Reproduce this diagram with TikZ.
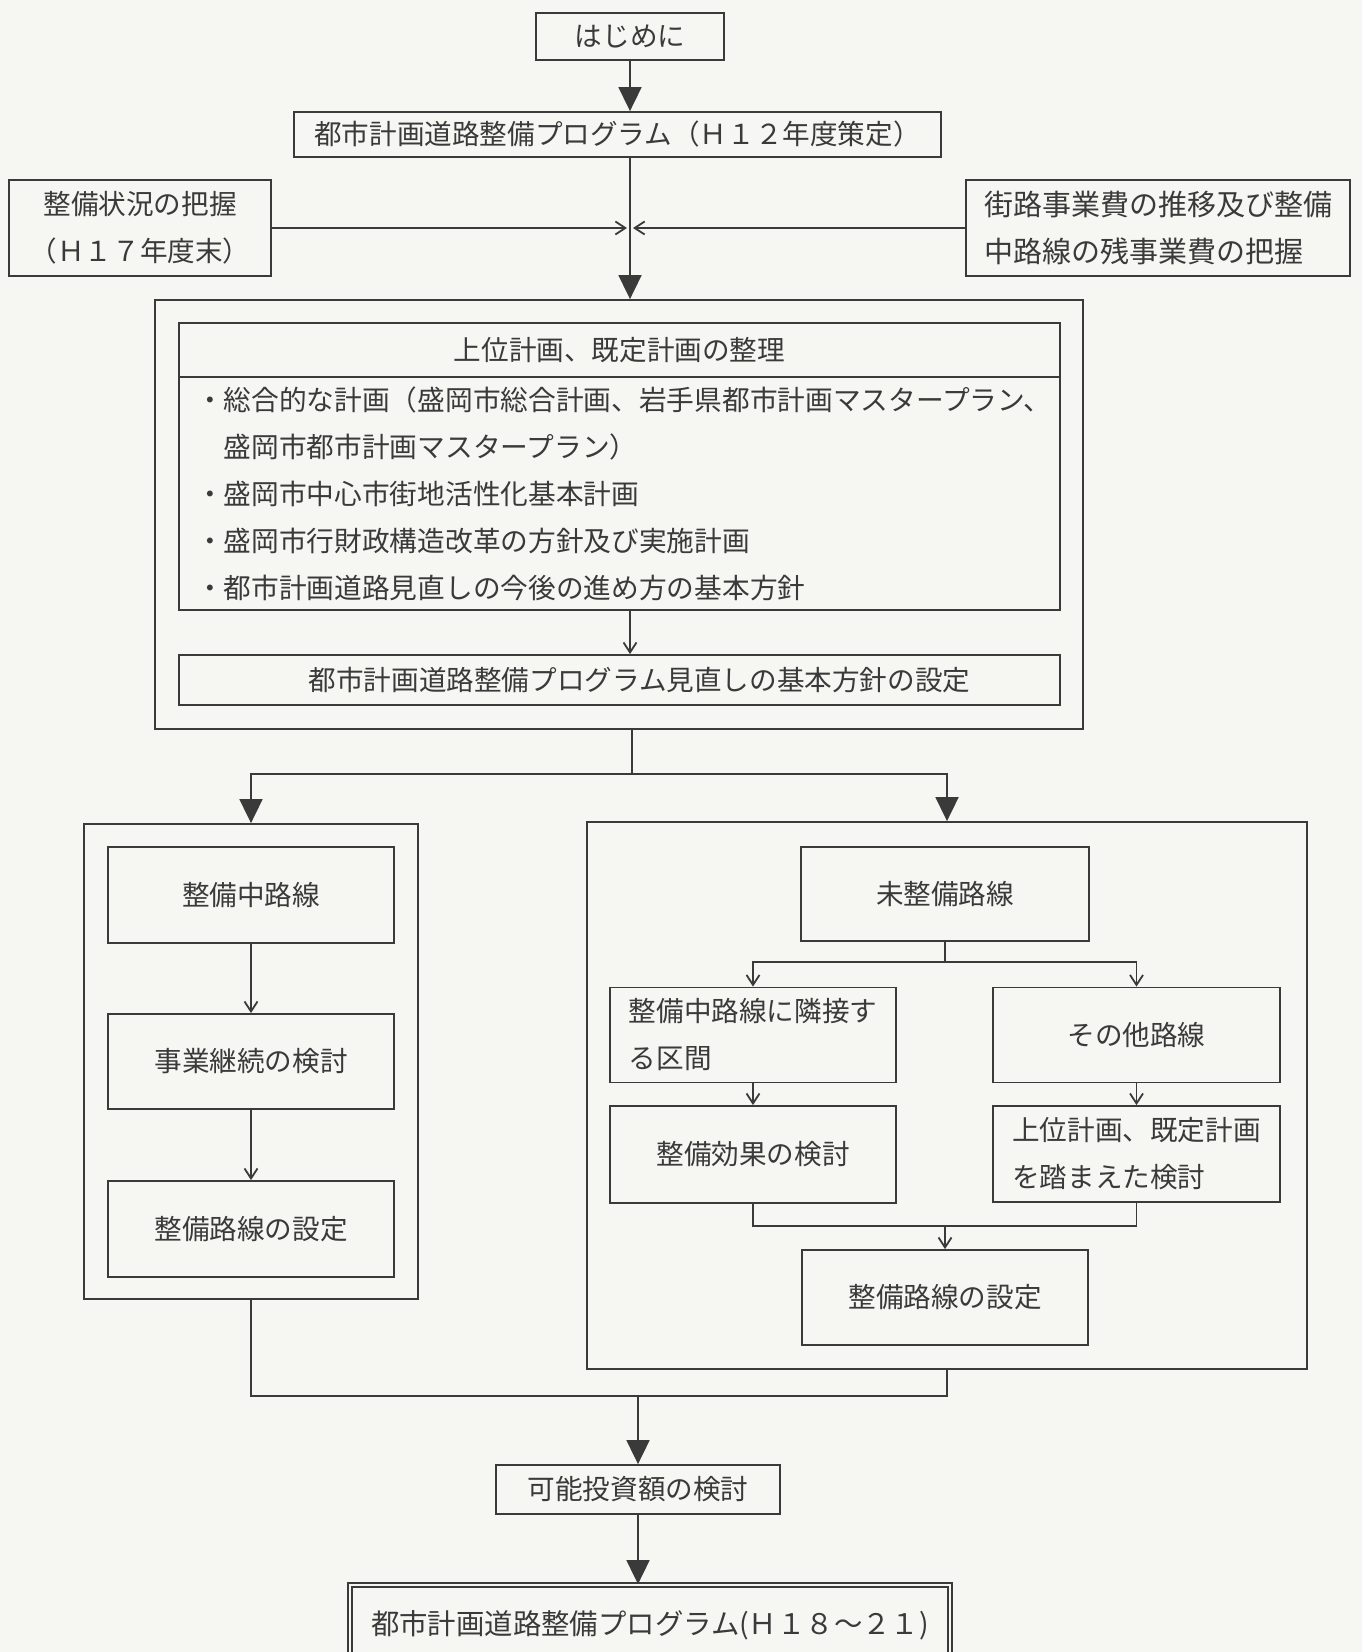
\documentclass[tikz,border=0pt]{standalone}
\usepackage{fontspec}
\setmainfont{Noto Sans CJK JP}
\usetikzlibrary{arrows.meta}
\definecolor{ink}{RGB}{58,58,58}
\definecolor{paper}{RGB}{246,247,243}

\begin{document}
\begin{tikzpicture}[x=0.5pt,y=-0.5pt,
	every node/.style={text=ink},
	box/.style={draw=ink,line width=0.9pt,inner sep=0pt,font=\fontsize{13.8pt}{23.5pt}\selectfont},
	frame/.style={draw=ink,line width=0.9pt,inner sep=0pt},
	link/.style={draw=ink,line width=0.9pt},
	big/.style={link,-{Triangle[width=11.5pt,length=12pt]}},
	thin/.style={link,-{Straight Barb[length=5pt,width=6.5pt]}}]
	\fill[paper] (0,0) rectangle (1362,1652);
	\useasboundingbox (0,0) rectangle (1362,1652);

	\node[box,minimum width=94pt,minimum height=23.5pt] (start) at (630,36.5) {はじめに};
	\node[box,minimum width=323.5pt,minimum height=22.5pt] (prog12) at (617.5,134.5) {都市計画道路整備プログラム（Ｈ１２年度策定）};
	\node[box,align=center,minimum width=131pt,minimum height=48pt] (status) at (140,228) {整備状況の把握\\（Ｈ１７年度末）};
	\node[box,align=left,minimum width=192pt,minimum height=48pt,font=\fontsize{14.5pt}{23.5pt}\selectfont] (cost) at (1158,228) {街路事業費の推移及び整備\\中路線の残事業費の把握};
	\coordinate (meet) at (630,228);

	\node[frame,minimum width=464pt,minimum height=214.5pt] (review) at (619,514.5) {};
	\node[box,minimum width=440.5pt,minimum height=27pt] (plansHead) at (619.5,350) {上位計画、既定計画の整理};
	\node[box,align=left,text width=423.5pt,inner xsep=8.5pt,minimum height=116.5pt,font=\fontsize{13.85pt}{23.5pt}\selectfont] (plansBody) at (619.5,493.5) {・総合的な計画（盛岡市総合計画、岩手県都市計画マスタープラン、\\\hphantom{・}盛岡市都市計画マスタープラン）\\・盛岡市中心市街地活性化基本計画\\・盛岡市行財政構造改革の方針及び実施計画\\・都市計画道路見直しの今後の進め方の基本方針};
	\node[box,minimum width=440.5pt,minimum height=25pt] (basic) at (619.5,680) {\hspace*{20pt}都市計画道路整備プログラム見直しの基本方針の設定};
	\coordinate (fork) at (632,774);

	\node[frame,minimum width=167pt,minimum height=237.5pt] (leftFrame) at (251,1061.5) {};
	\node[box,minimum width=143pt,minimum height=48pt] (ongoing) at (251,895) {整備中路線};
	\node[box,minimum width=143pt,minimum height=47.5pt] (continue) at (251,1061.5) {事業継続の検討};
	\node[box,minimum width=143pt,minimum height=48pt] (setL) at (251,1229) {整備路線の設定};

	\node[frame,minimum width=360pt,minimum height=273.5pt] (rightFrame) at (947,1095.5) {};
	\node[box,minimum width=144pt,minimum height=47pt] (unbuilt) at (945,894) {未整備路線};
	\coordinate (fork2) at (945,962);
	\node[box,align=left,minimum width=143pt,minimum height=47.5pt] (adjacent) at (753,1035) {整備中路線に隣接す\\る区間};
	\node[box,minimum width=143.5pt,minimum height=47.5pt] (others) at (1136.5,1035) {その他路線};
	\node[box,minimum width=143pt,minimum height=48.5pt] (effect) at (753,1154.5) {整備効果の検討};
	\node[box,align=left,minimum width=143.5pt,minimum height=48pt] (upper) at (1136.5,1154) {上位計画、既定計画\\を踏まえた検討};
	\coordinate (merge2) at (945,1226);
	\node[box,minimum width=143pt,minimum height=47.5pt] (setR) at (945,1297.5) {整備路線の設定};

	\coordinate (merge) at (638,1396);
	\node[box,minimum width=142pt,minimum height=24.5pt] (invest) at (638,1489.5) {可能投資額の検討};
	\node[box,draw=ink,double=paper,double distance=1.3pt,line width=0.9pt,minimum width=300pt,minimum height=40pt,font=\fontsize{14.2pt}{23.5pt}\selectfont] (final) at (650,1625) {都市計画道路整備プログラム(Ｈ１８～２１)};

	\draw[big] (start) -- (start |- prog12.north);
	\draw[big] (prog12.south -| start) -- (review.north -| start);
	\draw[thin,shorten >=1.5pt] (status) -- (meet);
	\draw[thin,shorten >=1.5pt] (cost) -- (meet);
	\draw[thin] (plansBody.south -| meet) -- (basic.north -| meet);

	\draw[link] (review.south -| fork) -- (fork);
	\draw[big] (fork) -| (leftFrame.north);
	\draw[big] (fork) -| (rightFrame.north);

	\draw[thin] (ongoing) -- (continue);
	\draw[thin] (continue) -- (setL);

	\draw[link] (unbuilt) -- (fork2);
	\draw[thin] (fork2) -| (adjacent.north);
	\draw[thin] (fork2) -| (others.north);
	\draw[thin] (adjacent) -- (effect);
	\draw[thin] (others) -- (upper);
	\draw[link] (effect.south) |- (merge2);
	\draw[link] (upper.south) |- (merge2);
	\draw[thin] (merge2) -- (setR);

	\draw[link] (leftFrame.south) |- (merge);
	\draw[link] (rightFrame.south) |- (merge);
	\draw[big] (merge) -- (invest);
	\draw[big] (invest) -- (invest |- final.north);
\end{tikzpicture}
\end{document}
